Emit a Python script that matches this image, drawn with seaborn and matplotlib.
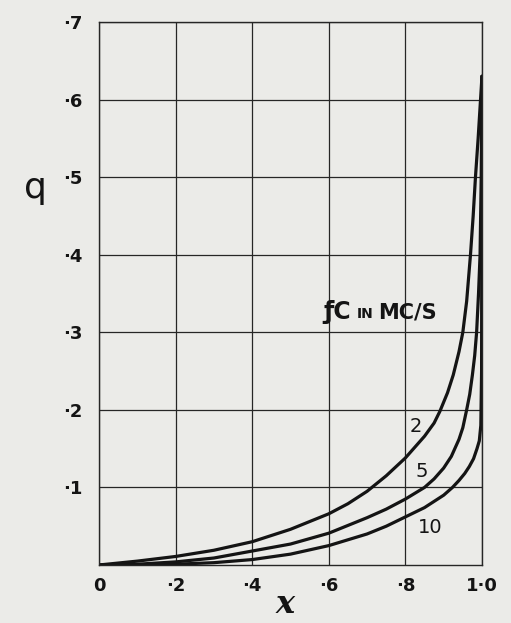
import pandas as pd
import seaborn as sns
import matplotlib.pyplot as plt

# curve readings, one list pair per cut-off frequency (Mc/s)
x_fc2 = [0, 0.1, 0.2, 0.3, 0.4, 0.5, 0.6, 0.65, 0.7, 0.75, 0.8, 0.85, 0.875, 0.89, 0.91, 0.925,
         0.94, 0.95, 0.96, 0.97, 0.977, 0.983, 0.99, 0.995, 1.0]
q_fc2 = [0, 0.005, 0.011, 0.019, 0.030, 0.046, 0.066, 0.079, 0.095, 0.115, 0.138, 0.166, 0.183, 0.198, 0.222, 0.245,
         0.275, 0.30, 0.34, 0.40, 0.45, 0.50, 0.55, 0.59, 0.63]

x_fc5 = [0, 0.1, 0.2, 0.3, 0.4, 0.5, 0.6, 0.7, 0.75, 0.8, 0.85, 0.875, 0.9, 0.92, 0.94, 0.95,
         0.96, 0.968, 0.975, 0.981, 0.986, 0.991, 0.995, 0.998, 1.0]
q_fc5 = [0, 0.001, 0.004, 0.009, 0.018, 0.027, 0.041, 0.061, 0.072, 0.085, 0.10, 0.111, 0.125, 0.14, 0.162, 0.177,
         0.20, 0.22, 0.245, 0.27, 0.30, 0.35, 0.40, 0.50, 0.63]

x_fc10 = [0, 0.1, 0.2, 0.3, 0.4, 0.5, 0.6, 0.7, 0.75, 0.8, 0.85, 0.9, 0.923, 0.94, 0.955,
          0.967, 0.978, 0.987, 0.993, 0.997, 0.999, 1.0]
q_fc10 = [0, 0.0, 0.001, 0.003, 0.007, 0.014, 0.025, 0.040, 0.050, 0.062, 0.074, 0.090, 0.10, 0.109, 0.118,
          0.127, 0.137, 0.15, 0.16, 0.18, 0.25, 0.63]

x_ticks = [0, 0.2, 0.4, 0.6, 0.8, 1.0]
x_ticklabels = ['0', '·2', '·4', '·6', '·8', '1·0']
y_ticks = [0.1, 0.2, 0.3, 0.4, 0.5, 0.6, 0.7]
y_ticklabels = ['·1', '·2', '·3', '·4', '·5', '·6', '·7']

df = pd.concat([
    pd.DataFrame({'x': x_fc2, 'q': q_fc2, 'fc': '2'}),
    pd.DataFrame({'x': x_fc5, 'q': q_fc5, 'fc': '5'}),
    pd.DataFrame({'x': x_fc10, 'q': q_fc10, 'fc': '10'}),
])

paper = '#ebebe8'
ink = '#141414'

sns.set_style('white')
plt.rcParams['font.family'] = ['DejaVu Sans']

fig = plt.figure(figsize=(5.11, 6.23), dpi=100, facecolor=paper)
ax = fig.add_axes([0.1937, 0.0931, 0.7495, 0.8716])
ax.set_facecolor(paper)

sns.lineplot(
    data=df, x='x', y='q', hue='fc',
    palette={'2': ink, '5': ink, '10': ink},
    estimator=None, sort=False, legend=False,
    linewidth=2.3, solid_joinstyle='round', ax=ax
)

ax.set_xlim(0, 1.0)
ax.set_ylim(0, 0.7)

# grid drawn like the hand-ruled paper
ax.set_xticks(x_ticks)
ax.set_xticklabels(x_ticklabels, fontsize=13, fontweight='bold')
ax.set_yticks(y_ticks)
ax.set_yticklabels(y_ticklabels, fontsize=13, fontweight='bold')
ax.grid(True, color='#262626', linewidth=0.9)
ax.tick_params(axis='both', length=0, colors=ink)
ax.tick_params(axis='x', pad=9)
ax.tick_params(axis='y', pad=12)
for side in ax.spines.values():
    side.set_color('#262626')
    side.set_linewidth(1.0)

ax.set_xlabel('x', fontsize=23, family='DejaVu Serif', style='italic', fontweight='bold', color=ink)
ax.xaxis.set_label_coords(0.486, -0.045)
ax.set_ylabel('q', fontsize=26, rotation=0, ha='center', va='center', color=ink)
ax.yaxis.set_label_coords(-0.167, 0.694)

ax.text(0.585, 0.326, 'ƒC', fontsize=17, fontweight='bold', color=ink, ha='left', va='center')
ax.text(0.672, 0.324, 'IN', fontsize=10, fontweight='bold', color=ink, ha='left', va='center')
ax.text(0.728, 0.326, 'MC/S', fontsize=15, fontweight='bold', color=ink, ha='left', va='center')
ax.text(0.828, 0.178, '2', fontsize=14, color=ink, ha='center', va='center')
ax.text(0.842, 0.120, '5', fontsize=14, color=ink, ha='center', va='center')
ax.text(0.865, 0.048, '10', fontsize=14, color=ink, ha='center', va='center')

plt.savefig('out.png', dpi=100, facecolor=paper)
